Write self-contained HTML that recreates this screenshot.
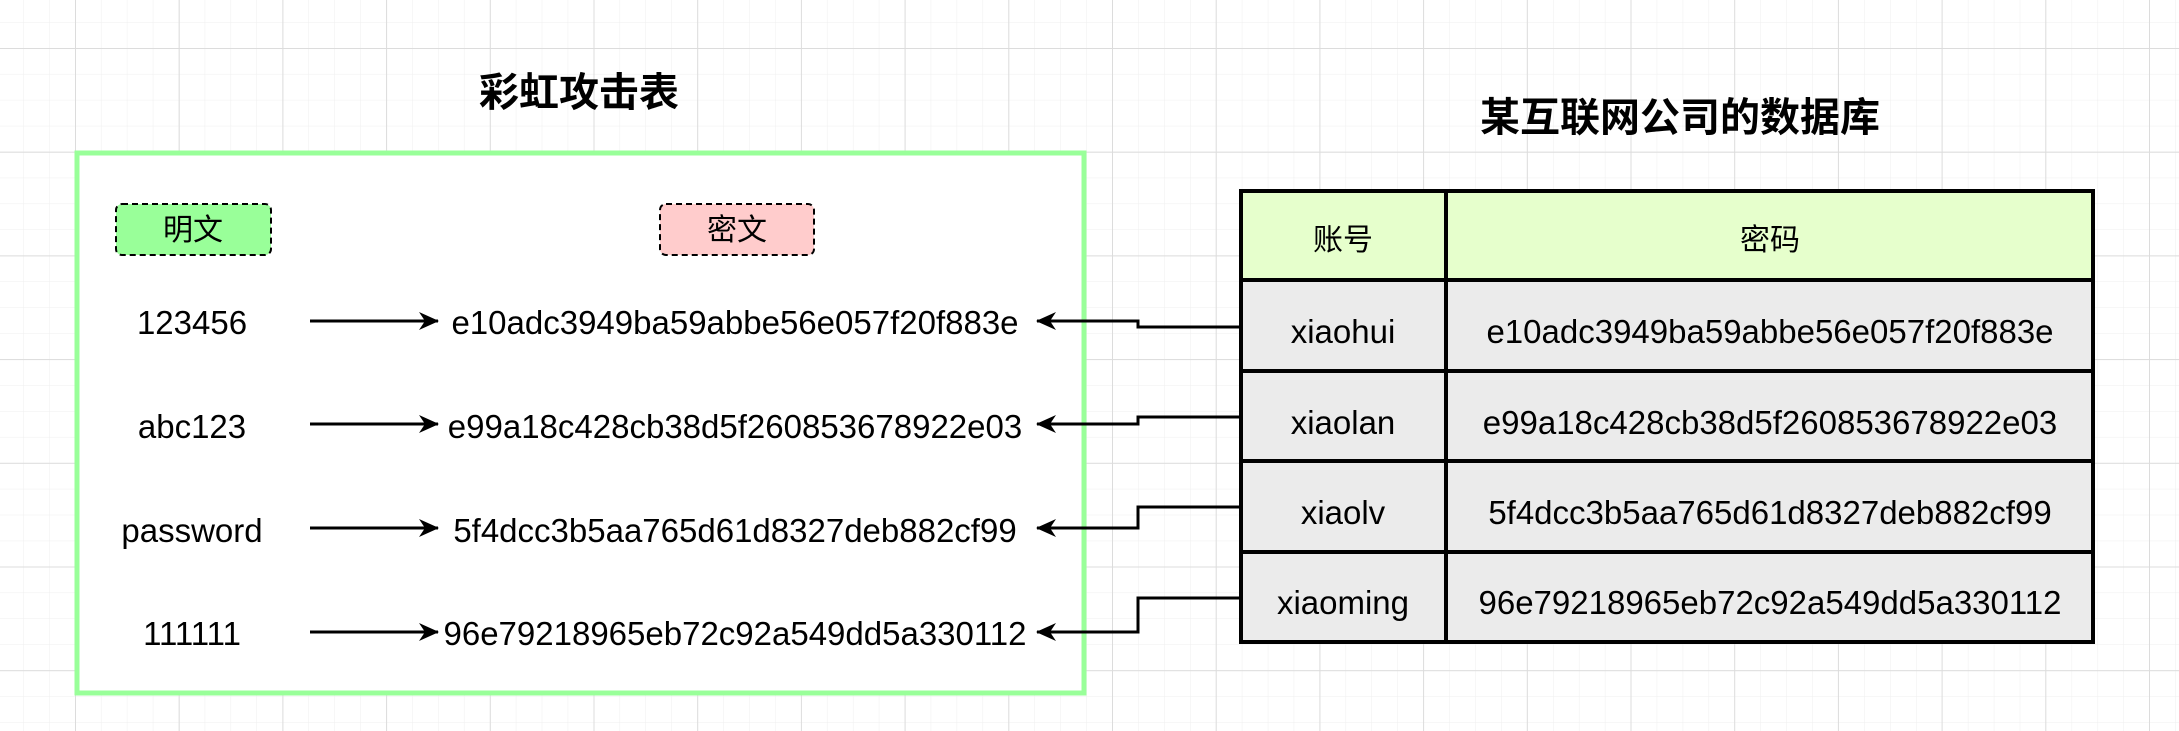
<!DOCTYPE html>
<html><head><meta charset="utf-8"><style>
html,body{margin:0;padding:0;background:#fff}
svg{display:block}
text{font-family:"Liberation Sans","Noto Sans CJK SC",sans-serif;fill:#000}
</style></head><body>
<svg width="2179" height="731" viewBox="0 0 2179 731" xmlns="http://www.w3.org/2000/svg">
<defs>
<pattern id="minor" width="25.93" height="25.93" patternUnits="userSpaceOnUse" x="75" y="48">
<path d="M0 0H25.93M0 0V25.93" stroke="#efefef" stroke-width="1" fill="none"/>
</pattern>
<pattern id="major" width="103.7" height="103.7" patternUnits="userSpaceOnUse" x="75" y="48">
<path d="M0 0.5H103.7M0.5 0V103.7" stroke="#dcdcdc" stroke-width="1" fill="none"/>
</pattern>
<marker id="ah" markerWidth="20" markerHeight="20" refX="19" refY="10" orient="auto" markerUnits="userSpaceOnUse">
<path d="M0 1L20 10L0 19L6 10Z" fill="#000"/>
</marker>
</defs>
<rect width="2179" height="731" fill="url(#minor)"/>
<rect width="2179" height="731" fill="url(#major)"/>

<text x="579" y="106" font-size="40" font-weight="bold" text-anchor="middle">彩虹攻击表</text>
<text x="1680" y="131" font-size="40" font-weight="bold" text-anchor="middle">某互联网公司的数据库</text>

<rect x="77" y="153" width="1007" height="540" fill="#fff" stroke="#99ff99" stroke-width="5"/>

<rect x="116" y="204" width="155" height="51" rx="6" fill="#99ff99" stroke="#000" stroke-width="2" stroke-dasharray="6,4"/>
<text x="193" y="240" font-size="30" text-anchor="middle">明文</text>
<rect x="660" y="204" width="154" height="51" rx="6" fill="#ffcccc" stroke="#000" stroke-width="2" stroke-dasharray="6,4"/>
<text x="737" y="240" font-size="30" text-anchor="middle">密文</text>

<g font-size="33" text-anchor="middle">
<text x="192" y="334">123456</text>
<text x="192" y="438">abc123</text>
<text x="192" y="542">password</text>
<text x="192" y="645">111111</text>
<text x="735" y="334">e10adc3949ba59abbe56e057f20f883e</text>
<text x="735" y="438">e99a18c428cb38d5f260853678922e03</text>
<text x="735" y="542">5f4dcc3b5aa765d61d8327deb882cf99</text>
<text x="735" y="645">96e79218965eb72c92a549dd5a330112</text>
</g>

<g stroke="#000" stroke-width="3" fill="none">
<path d="M310 321H438" marker-end="url(#ah)"/>
<path d="M310 424H438" marker-end="url(#ah)"/>
<path d="M310 528H438" marker-end="url(#ah)"/>
<path d="M310 632H438" marker-end="url(#ah)"/>
<path d="M1239 327H1138V321H1037" marker-end="url(#ah)"/>
<path d="M1239 417H1138V424H1037" marker-end="url(#ah)"/>
<path d="M1239 507H1138V528H1037" marker-end="url(#ah)"/>
<path d="M1239 598H1138V632H1037" marker-end="url(#ah)"/>
</g>

<rect x="1241" y="191" width="852" height="89" fill="#e6ffcc"/>
<rect x="1241" y="280" width="852" height="362" fill="#ebebeb"/>
<g stroke="#000" stroke-width="4" fill="none">
<rect x="1241" y="191" width="852" height="451"/>
<path d="M1446 191V642M1241 280H2093M1241 371H2093M1241 461H2093M1241 552H2093"/>
</g>
<g text-anchor="middle">
<text x="1343" y="250" font-size="30">账号</text>
<text x="1770" y="250" font-size="30">密码</text>
<g font-size="33">
<text x="1343" y="343">xiaohui</text>
<text x="1343" y="434">xiaolan</text>
<text x="1343" y="524">xiaolv</text>
<text x="1343" y="614">xiaoming</text>
<text x="1770" y="343">e10adc3949ba59abbe56e057f20f883e</text>
<text x="1770" y="434">e99a18c428cb38d5f260853678922e03</text>
<text x="1770" y="524">5f4dcc3b5aa765d61d8327deb882cf99</text>
<text x="1770" y="614">96e79218965eb72c92a549dd5a330112</text>
</g>
</g>
</svg>
</body></html>
